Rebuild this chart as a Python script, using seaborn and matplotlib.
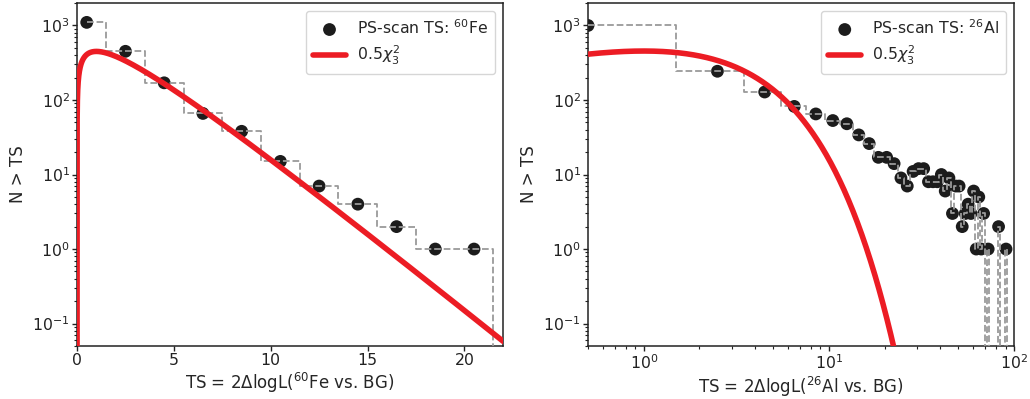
# histogramas de TS del PS-scan (60Fe y 26Al) con la curva 0.5 chi2_3

import numpy as np
import pandas as pd
import seaborn as sns
import matplotlib.pyplot as plt

# datos

# panel izquierdo: 60Fe, centros de bin (ancho 2) y cuentas
ts_fe = [0.5, 2.5, 4.5, 6.5, 8.5, 10.5, 12.5, 14.5, 16.5, 18.5, 20.5, 22.5]
n_fe = [1100, 450, 170, 66, 38, 15, 7, 4, 2, 1, 1, 0]

# panel derecho: 26Al
ts_al = [0.5, 2.5, 4.5, 6.5, 8.5, 10.5, 12.5, 14.5, 16.5, 18.5,
         20.5, 22.5, 24.5, 26.5, 28.5, 30.5, 32.5, 34.5, 36.5, 38.5,
         40.5, 42.5, 44.5, 46.5, 48.5, 50.5, 52.5, 54.5, 56.5, 58.5,
         60.5, 62.5, 64.5, 66.5, 68.5, 70.5, 72.5, 74.5, 76.5, 78.5,
         80.5, 82.5, 84.5, 86.5, 88.5, 90.5, 92.5]
n_al = [1000, 243, 128, 82, 65, 53, 48, 34, 26, 17,
        17, 14, 9, 7, 11, 12, 12, 8, 8, 8,
        10, 6, 9, 3, 7, 7, 2, 3, 4, 3,
        6, 1, 5, 1, 3, 0, 1, 0, 0, 0,
        0, 2, 0, 0, 0, 1, 0]

bin_width = 2.0

fe_label = "PS-scan TS: $^{60}$Fe"
al_label = "PS-scan TS: $^{26}$Al"
chi_label = "0.5$\\chi^2_3$"
xlabel_fe = "TS = 2$\\Delta$logL($^{60}$Fe vs. BG)"
xlabel_al = "TS = 2$\\Delta$logL($^{26}$Al vs. BG)"
ylabel = "N > TS"


def chi2_3(x):
    # densidad chi2 con 3 grados de libertad
    return np.sqrt(x) * np.exp(-x / 2.0) / np.sqrt(2.0 * np.pi)


sns.set_theme(style="ticks")
plt.rcParams["font.family"] = ["DejaVu Sans"]
plt.rcParams["mathtext.fontset"] = "dejavusans"

fig = plt.figure(figsize=(10.3, 3.99), dpi=100)
ax1 = fig.add_axes([0.0748, 0.1328, 0.4136, 0.8596])
ax2 = fig.add_axes([0.5709, 0.1328, 0.4136, 0.8596])

tx = np.logspace(-10, 2, 4000)

for ax, ts, n, lab in [(ax1, ts_fe, n_fe, fe_label), (ax2, ts_al, n_al, al_label)]:
    df = pd.DataFrame({"ts": ts, "n": n})
    norm = 0.5 * df["n"].sum() * bin_width

    sns.scatterplot(data=df[df["n"] > 0], x="ts", y="n", ax=ax,
                    color="#1c1c1c", s=85, edgecolor="none",
                    label=lab, zorder=2)
    sns.lineplot(data=df, x="ts", y="n", ax=ax, estimator=None,
                 drawstyle="steps-mid", color="#9a9a9a", linestyle="--",
                 lw=1.3, zorder=3)
    sns.lineplot(x=tx, y=norm * chi2_3(tx), ax=ax, estimator=None,
                 color="#ec1c24", lw=4, label=chi_label, zorder=4)

    ax.set_yscale("log")
    ax.set_ylim(0.05, 2000)
    ax.set_ylabel(ylabel, fontsize=12, labelpad=4)
    ax.tick_params(labelsize=11.3, colors="#222222", which="major",
                   length=3.5, pad=1.8, width=1)
    ax.tick_params(which="minor", length=2, width=0.8, colors="#222222")
    for sp in ax.spines.values():
        sp.set_linewidth(1.1)
        sp.set_color("#222222")
    ax.legend(loc="upper right", fontsize=11.3, frameon=True,
              handlelength=2.1, handletextpad=0.7,
              borderpad=0.45, labelspacing=0.45)

ax1.set_xlim(0, 22)
ax1.set_xticks([0, 5, 10, 15, 20])
ax1.set_xlabel(xlabel_fe, fontsize=12, labelpad=2)

ax2.set_xscale("log")
ax2.set_xlim(0.5, 100)
ax2.set_xlabel(xlabel_al, fontsize=12, labelpad=2)

plt.savefig("out.png", dpi=100)
